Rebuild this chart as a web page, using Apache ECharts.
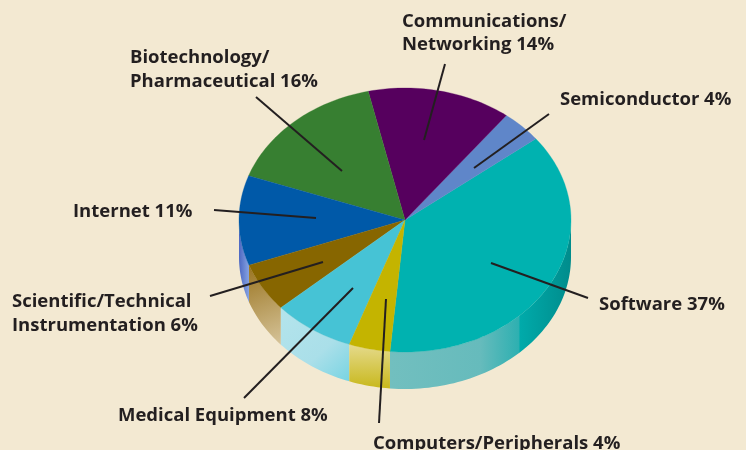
<!DOCTYPE html>
<html>
<head>
<meta charset="utf-8">
<style>html,body{margin:0;padding:0;background:#f3e9d2}#c{width:746px;height:450px}</style>
<script src="https://cdn.jsdelivr.net/npm/echarts@6/dist/echarts.min.js"></script>
</head>
<body>
<div id="c"></div>
<script>
const categories = ['Software','Semiconductor','Communications/Networking','Biotechnology/Pharmaceutical','Internet','Scientific/Technical Instrumentation','Medical Equipment','Computers/Peripherals'];
const shares = [37,4,14,16,11,6,8,4];
// clockwise order starting from the top-right edge of Software
const order = [0,7,6,5,4,3,2,1];
const topColors = ['#00b2b0','#5f86c9','#56005e','#377f31','#0059a8','#876600','#46c3d5','#c4b400'];
const sideStops = [
  [[0,0,1,0],[[0,'#72bfbf'],[0.5,'#66bbbc'],[0.71,'#2eb0b1'],[0.72,'#00aaaa'],[1,'#008c8c']]],
  null,null,null,
  [[0,0,1,0],[[0,'#4d68c2'],[1,'#86a3e2']]],
  [[0,0,1,1],[[0,'#9a7420'],[1,'#d6c49a']]],
  [[0,0,1,1],[[0,'#b4e4ec'],[0.6,'#aadfe9'],[1,'#78d4e2']]],
  [[0,0,0,1],[[0,'#e5da8c'],[1,'#c8b81c']]]
];
const labelRows = [
  {lines:['Communications/','Networking 14%'],x:402,y:[21,44]},
  {lines:['Semiconductor 4%'],x:560,y:[99]},
  {lines:['Software 37%'],x:599,y:[304]},
  {lines:['Computers/Peripherals 4%'],x:373,y:[443]},
  {lines:['Medical Equipment 8%'],x:118,y:[415]},
  {lines:['Scientific/Technical','Instrumentation 6%'],x:12,y:[301,325]},
  {lines:['Internet 11%'],x:73,y:[211]},
  {lines:['Biotechnology/','Pharmaceutical 16%'],x:130,y:[57,81]}
];
const leaders = [
  [445,64,424,140],[549,114,474,168],[491,263,588,298],[386,299,379,423],
  [353,288,244,398],[323,262,210,296],[214,210,316,218],[256,97,342,171]
];
const CX=405, CY=220, RX=166, RY=132, DEPTH=37, START=38;

const total = shares.reduce((a,b)=>a+b,0);
const ranges = {};
let acc = START;
order.forEach(i=>{ const sweep = shares[i]/total*360; ranges[i]=[acc,acc-sweep]; acc-=sweep; });
const pt=(deg,dy)=>{const r=deg*Math.PI/180;return [CX+RX*Math.cos(r),CY-RY*Math.sin(r)+(dy||0)];};
function arc(a,b,dy){const n=Math.max(2,Math.ceil(Math.abs(a-b)/1.5));const out=[];for(let k=0;k<=n;k++)out.push(pt(a+(b-a)*k/n,dy));return out;}

function renderTop(params){
  const i = params.dataIndex, [a,b]=ranges[i];
  return {type:'polygon',shape:{points:[[CX,CY]].concat(arc(a,b))},style:{fill:topColors[i],stroke:topColors[i],lineWidth:0.3}};
}
function renderSide(params){
  const i = params.dataIndex; const [a0,b0]=ranges[i];
  let a=a0,b=b0;
  // bring into the front-facing half: -180..0
  if(a>0)a=0;
  if(b<-180)b=-180;
  if(a<=b||!sideStops[i])return null;
  const [d,stops]=sideStops[i];
  const grad=new echarts.graphic.LinearGradient(d[0],d[1],d[2],d[3],stops.map(s=>({offset:s[0],color:s[1]})));
  return {type:'polygon',shape:{points:arc(a,b,0).concat(arc(b,a,DEPTH))},style:{fill:grad}};
}
const TEXT='#231f20';
const graphics=[];
leaders.forEach(l=>graphics.push({type:'line',z:10,shape:{x1:l[0],y1:l[1],x2:l[2],y2:l[3]},style:{stroke:TEXT,lineWidth:2}}));
labelRows.forEach(r=>r.lines.forEach((t,k)=>graphics.push({type:'text',z:10,x:r.x,y:r.y[k]+1,style:{text:t,fill:TEXT,font:'700 18.5px "Open Sans"',textVerticalAlign:'middle',textBaseline:'middle'}})));
const data=shares.map((v,i)=>({name:categories[i],value:[v]}));
const chart=echarts.init(document.getElementById('c'),null,{renderer:'canvas'});
chart.setOption({
  backgroundColor:'#f3e9d2',
  animation:false,
  xAxis:{show:false},yAxis:{show:false},
  series:[
    {type:'custom',coordinateSystem:'none',renderItem:renderSide,data:data,silent:true,z:1},
    {type:'custom',coordinateSystem:'none',renderItem:renderTop,data:data,silent:true,z:2}
  ],
  graphic:graphics
});
</script>
</body>
</html>
